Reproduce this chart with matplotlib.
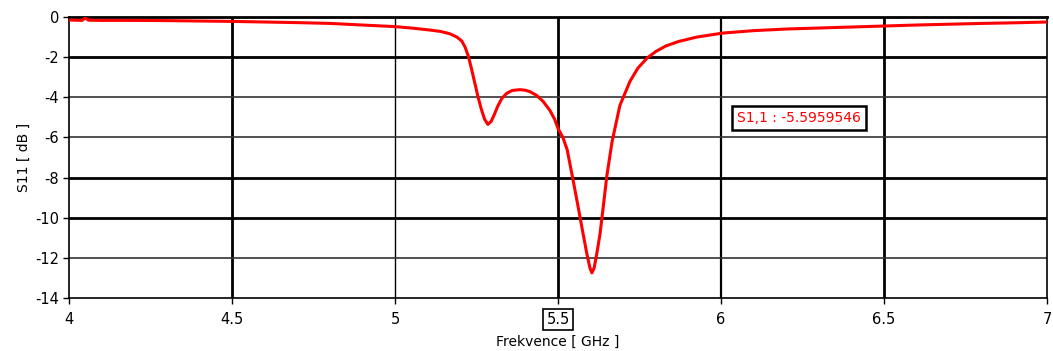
import matplotlib.pyplot as plt

plt.rcParams['axes.unicode_minus'] = False

# S11 sweep
freq_ghz = [4.00, 4.04, 4.05, 4.06, 4.10, 4.20, 4.30, 4.40, 4.50, 4.60, 4.70, 4.80,
            4.90, 5.00, 5.05, 5.107, 5.14, 5.169, 5.19, 5.205, 5.215, 5.225, 5.235,
            5.245, 5.255, 5.265, 5.275, 5.285, 5.295, 5.305, 5.315, 5.328, 5.343,
            5.36, 5.383, 5.40, 5.414, 5.434, 5.454, 5.475, 5.49, 5.50, 5.515, 5.528,
            5.546, 5.56, 5.573, 5.588, 5.598, 5.604, 5.611, 5.62, 5.629, 5.64, 5.65,
            5.666, 5.69, 5.721, 5.745, 5.773, 5.80, 5.83, 5.87, 5.926, 6.006, 6.10,
            6.20, 6.30, 6.40, 6.50, 6.60, 6.70, 6.80, 6.90, 7.00]
s11_db = [-0.15, -0.17, -0.05, -0.16, -0.17, -0.17, -0.18, -0.20, -0.22, -0.25,
          -0.28, -0.32, -0.40, -0.48, -0.55, -0.65, -0.72, -0.84, -1.0, -1.2,
          -1.5, -1.95, -2.6, -3.3, -4.0, -4.6, -5.1, -5.35, -5.2, -4.85, -4.45,
          -4.05, -3.8, -3.66, -3.62, -3.65, -3.72, -3.9, -4.2, -4.65, -5.1,
          -5.55, -6.0, -6.6, -8.1, -9.3, -10.45, -11.75, -12.5, -12.75, -12.5,
          -11.7, -10.8, -9.3, -7.9, -6.2, -4.4, -3.2, -2.55, -2.05, -1.72, -1.45,
          -1.22, -1.0, -0.8, -0.68, -0.6, -0.55, -0.5, -0.45, -0.40, -0.36,
          -0.32, -0.29, -0.25]

x_ticks = [4, 4.5, 5, 5.5, 6, 6.5, 7]
x_tick_labels = ['4', '4.5', '5', '5.5', '6', '6.5', '7']
y_ticks = [0, -2, -4, -6, -8, -10, -12, -14]
marker_label = 'S1,1 : -5.5959546'

fig = plt.figure(figsize=(10.53, 3.51), dpi=100)
ax = fig.add_axes([0.0655, 0.151, 0.9288, 0.8006])

ax.set_xlim(4, 7)
ax.set_ylim(-14, 0)

# grid drawn by hand to mimic the uneven line weights of the original
v_widths = {4.5: 2.0, 5: 1.0, 5.5: 2.0, 6: 1.6, 6.5: 2.0}
for xv, lw in v_widths.items():
    ax.axvline(xv, color='black', lw=lw, zorder=1)
h_widths = {-2: 2.0, -4: 1.2, -6: 1.2, -8: 2.0, -10: 2.0, -12: 1.2}
for yv, lw in h_widths.items():
    ax.axhline(yv, color='black' if lw > 1.5 else '#333333', lw=lw, zorder=1)

ax.plot(freq_ghz, s11_db, color='#ff0000', lw=2.2, zorder=3)

for side in ['left', 'bottom', 'right']:
    ax.spines[side].set_linewidth(1.2)
ax.spines['top'].set_linewidth(2.0)

ax.set_xticks(x_ticks)
ax.set_xticklabels(x_tick_labels)
ax.set_yticks(y_ticks)
ax.tick_params(direction='out', length=4, width=1, labelsize=10.5)
ax.tick_params(axis='x', pad=6)
ax.tick_params(axis='y', pad=3)

# boxed marker tick label
for lab in ax.get_xticklabels():
    if lab.get_text() == '5.5':
        lab.set_bbox(dict(boxstyle='square,pad=0.2', facecolor='white',
                          edgecolor='black', lw=1.2))

ax.set_xlabel('Frekvence [ GHz ]', fontsize=10, labelpad=6)
ax.set_ylabel('S11 [ dB ]', fontsize=10, labelpad=3)

ax.text(6.05, -5.05, marker_label, color='#ff0000', fontsize=10,
        ha='left', va='center', zorder=5,
        bbox=dict(boxstyle='square,pad=0.35', facecolor='white',
                  edgecolor='black', lw=1.8))

fig.savefig('out.png', dpi=100)
